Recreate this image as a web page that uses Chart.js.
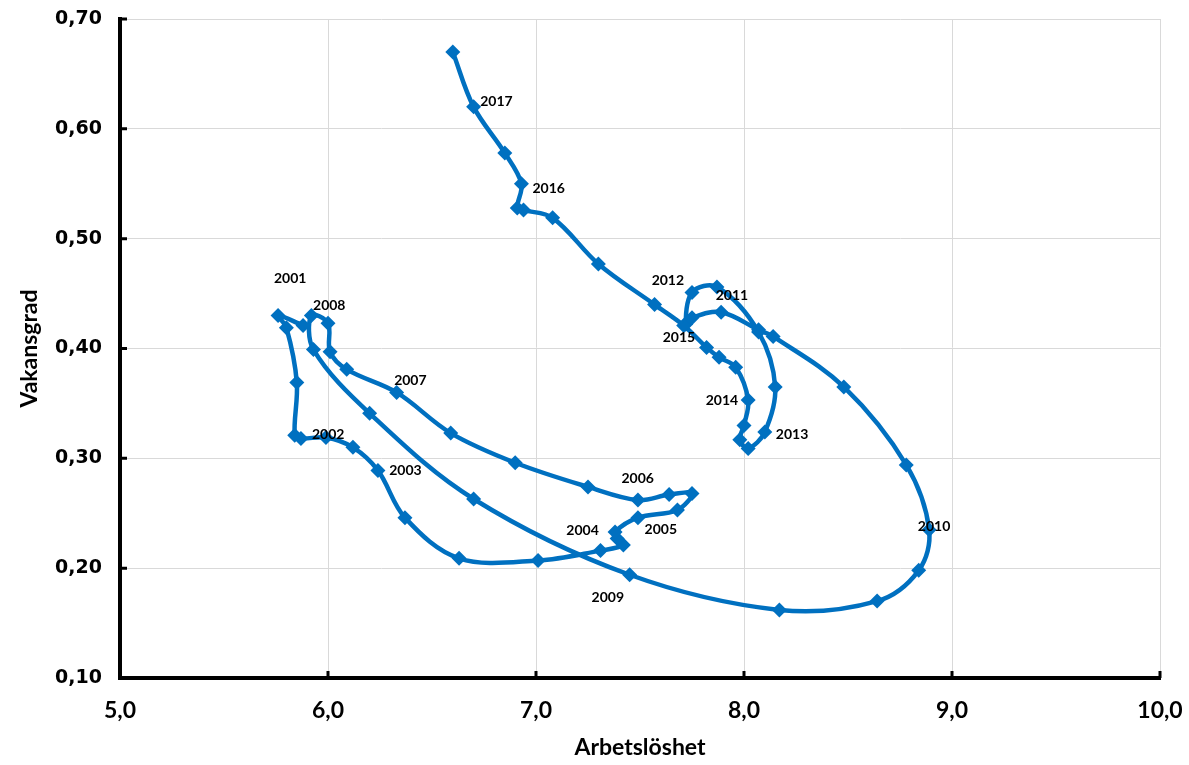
<!DOCTYPE html>
<html>
<head>
<meta charset="utf-8">
<script src="https://cdn.jsdelivr.net/npm/chart.js@4.4.0/dist/chart.umd.min.js"></script>
<style>
  body { margin: 0; background: #fff; }
  #wrap { width: 1189px; height: 765px; }
</style>
</head>
<body>
<div id="wrap"><canvas id="beveridge" width="1189" height="765"></canvas></div>
<script>
// Arbetslöshet (%), kvartal 2001 - 2017
const unemployment = [
  5.88, 5.76, 5.80, 5.85, 5.84, 5.87, 5.99, 6.12, 6.24, 6.37, 6.63,
  7.01, 7.31, 7.42, 7.39, 7.38, 7.49, 7.68, 7.75, 7.64, 7.49, 7.25,
  6.90, 6.59, 6.33, 6.09, 6.01, 6.00, 5.92, 5.93, 6.20, 6.70, 7.45,
  8.17, 8.64, 8.84, 8.89, 8.78, 8.48, 8.14, 8.07, 7.89, 7.75, 7.72,
  7.75, 7.87, 8.07, 8.15, 8.10, 8.02, 7.98, 8.00, 8.02, 7.96, 7.88,
  7.82, 7.71, 7.57, 7.30, 7.08, 6.94, 6.91, 6.93, 6.85, 6.70, 6.60
];

// Vakansgrad (%)
const vacancies = [
  0.421, 0.430, 0.419, 0.369, 0.321, 0.318, 0.319, 0.310, 0.289, 0.246, 0.209,
  0.207, 0.216, 0.221, 0.227, 0.233, 0.246, 0.253, 0.268, 0.267, 0.262, 0.274,
  0.296, 0.323, 0.360, 0.381, 0.397, 0.423, 0.430, 0.399, 0.341, 0.263, 0.194,
  0.162, 0.170, 0.198, 0.235, 0.294, 0.365, 0.411, 0.417, 0.433, 0.428, 0.422,
  0.451, 0.456, 0.415, 0.365, 0.324, 0.309, 0.317, 0.330, 0.353, 0.383, 0.392,
  0.401, 0.421, 0.440, 0.477, 0.519, 0.526, 0.528, 0.550, 0.578, 0.620, 0.670
];

// year labels and where they sit (data coords)
const yearNames = ["2001", "2002", "2003", "2004", "2005", "2006", "2007", "2008", "2009",
  "2010", "2011", "2012", "2013", "2014", "2015", "2016", "2017"];
const yearX = [5.818, 6.001, 6.372, 7.224, 7.600, 7.489, 6.396, 6.006, 7.345,
  8.914, 7.942, 7.634, 8.231, 7.894, 7.687, 7.061, 6.810];
const yearY = [0.464, 0.322, 0.289, 0.234, 0.235, 0.282, 0.371, 0.439, 0.173,
  0.238, 0.448, 0.462, 0.322, 0.353, 0.410, 0.546, 0.625];

const xTicks = [5, 6, 7, 8, 9, 10];
const yTicks = [0.1, 0.2, 0.3, 0.4, 0.5, 0.6, 0.7];

const blue = '#0070c0';

let points = unemployment.map((u, i) => ({x: u, y: vacancies[i]}));

// small ticks pointing into the plot + year texts
const extras = {
  id: 'extras',
  afterDatasetsDraw(chart) {
    const ctx = chart.ctx;
    const xs = chart.scales.x, ys = chart.scales.y;
    const a = chart.chartArea;
    ctx.save();
    ctx.strokeStyle = '#000';
    ctx.lineWidth = 3;
    ctx.beginPath();
    xTicks.forEach(t => {
      let px = xs.getPixelForValue(t);
      ctx.moveTo(px, a.bottom);
      ctx.lineTo(px, a.bottom - 7);
    });
    yTicks.forEach(t => {
      let py = ys.getPixelForValue(t);
      ctx.moveTo(a.left, py);
      ctx.lineTo(a.left + 7, py);
    });
    ctx.stroke();

    ctx.fillStyle = '#000';
    ctx.font = 'bold 14px Lato';
    ctx.textAlign = 'center';
    ctx.textBaseline = 'middle';
    yearNames.forEach((n, i) => {
      ctx.fillText(n, xs.getPixelForValue(yearX[i]), ys.getPixelForValue(yearY[i]));
    });
    ctx.restore();
  }
};

const config = {
  type: 'scatter',
  data: {
    datasets: [{
      data: points,
      showLine: true,
      borderColor: blue,
      backgroundColor: blue,
      borderWidth: 4.5,
      tension: 0.35,
      pointStyle: 'rectRot',
      pointRadius: 7.5,
      pointBorderWidth: 0,
      clip: false
    }]
  },
  options: {
    responsive: false,
    animation: false,
    layout: {padding: {left: 0, right: 29, top: 19, bottom: 0}},
    plugins: {legend: {display: false}, tooltip: {enabled: false}},
    scales: {
      x: {
        type: 'linear',
        min: 5, max: 10,
        afterBuildTicks: s => { s.ticks = xTicks.map(v => ({value: v})); },
        afterFit: s => { s.height = 87; s.paddingLeft = 0; s.paddingRight = 0; },
        grid: {color: '#d9d9d9', lineWidth: 1, drawTicks: false},
        border: {color: '#000', width: 4},
        ticks: {
          padding: 19,
          color: '#000',
          font: {family: 'Lato', weight: 'bold', size: 23},
          callback: v => v.toFixed(1).replace('.', ',')
        },
        title: {
          display: true, text: 'Arbetslöshet', color: '#000',
          font: {family: 'Lato', weight: 'bold', size: 23},
          padding: {top: 0, bottom: 4}
        }
      },
      y: {
        type: 'linear',
        min: 0.1, max: 0.7,
        afterBuildTicks: s => { s.ticks = yTicks.map(v => ({value: v})); },
        afterFit: s => { s.width = 120; s.paddingTop = 0; s.paddingBottom = 0; },
        grid: {color: '#d9d9d9', lineWidth: 1, drawTicks: false},
        border: {color: '#000', width: 4},
        ticks: {
          padding: 18,
          color: '#000',
          font: {family: 'DejaVu Sans', weight: 'bold', size: 19},
          callback: v => v.toFixed(2).replace('.', ',')
        },
        title: {
          display: true, text: 'Vakansgrad', color: '#000',
          font: {family: 'Lato', weight: 'bold', size: 23},
          padding: {top: 16, bottom: 0}
        }
      }
    }
  },
  plugins: [extras]
};

new Chart(document.getElementById('beveridge'), config);
</script>
</body>
</html>
